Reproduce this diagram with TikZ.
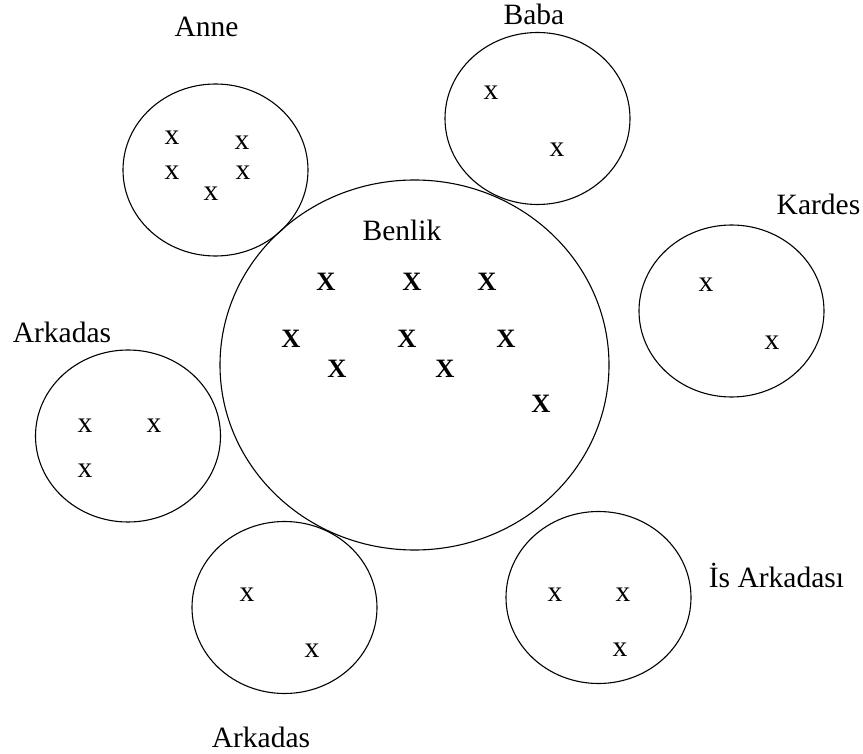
\documentclass[tikz,border=0pt]{standalone}
\usepackage{fontspec}
\setmainfont{Liberation Serif}
\usetikzlibrary{shapes.geometric}
\tikzset{
  others/.style={draw,ellipse,line width=1.1pt,minimum width=185pt,minimum height=172pt,inner sep=0pt},
  self circle/.style={draw,ellipse,line width=1.1pt,minimum width=389pt,minimum height=370pt,inner sep=0pt},
  person/.style={anchor=base,inner sep=0pt,font=\fontsize{29.5}{34}\selectfont},
  trait/.style={inner sep=0pt,font=\fontsize{29.5}{34}\selectfont},
  core trait/.style={inner sep=0pt,font=\fontsize{26.5}{32}\selectfont\bfseries}
}

\begin{document}
\begin{tikzpicture}[x=1pt,y=-1pt]
  \useasboundingbox (0,0) rectangle (863,754);

  % circles
  \node[self circle] (benlik) at (414.5,365) {};
  \node[others] (anne) at (215.5,170) {};
  \node[others] (baba) at (537.5,118.5) {};
  \node[others] (kardes) at (731.5,311) {};
  \node[others] (arkadas 1) at (128,436) {};
  \node[others] (arkadas 2) at (284.5,607.5) {};
  \node[others] (is arkadasi) at (598.5,597.5) {};

  % names
  \node[person] (benlik name) at (402,241) {Benlik};
  \node[person] (anne name) at (206.5,37) {Anne};
  \node[person] (baba name) at (534,25) {Baba};
  \node[person] (kardes name) at (818.5,215) {Kardes};
  \node[person] (arkadas 1 name) at (62,343) {Arkadas};
  \node[person] (arkadas 2 name) at (261,747) {Arkadas};
  \node[person] (is arkadasi name) at (776.5,587) {İs Arkadası};

  % self
  \node[core trait] (core 1) at (326,282) {X};
  \node[core trait] (core 2) at (412,282) {X};
  \node[core trait] (core 3) at (487,282) {X};
  \node[core trait] (core 4) at (291,339) {X};
  \node[core trait] (core 5) at (407,339) {X};
  \node[core trait] (core 6) at (506,339) {X};
  \node[core trait] (core 7) at (337,369) {X};
  \node[core trait] (core 8) at (445,369) {X};
  \node[core trait] (core 9) at (541,404) {X};

  % others
  \node[trait] (anne 1) at (172,138) {x};
  \node[trait] (anne 2) at (242,143) {x};
  \node[trait] (anne 3) at (172,173) {x};
  \node[trait] (anne 4) at (243,173) {x};
  \node[trait] (anne 5) at (211,194) {x};
  \node[trait] (baba 1) at (491,93) {x};
  \node[trait] (baba 2) at (557,150) {x};
  \node[trait] (kardes 1) at (706,285) {x};
  \node[trait] (kardes 2) at (772,343) {x};
  \node[trait] (arkadas 1 1) at (85,426) {x};
  \node[trait] (arkadas 1 2) at (154,426) {x};
  \node[trait] (arkadas 1 3) at (85,471) {x};
  \node[trait] (arkadas 2 1) at (247,595) {x};
  \node[trait] (arkadas 2 2) at (312,651) {x};
  \node[trait] (is arkadasi 1) at (555,595) {x};
  \node[trait] (is arkadasi 2) at (623,595) {x};
  \node[trait] (is arkadasi 3) at (620,650) {x};
\end{tikzpicture}
\end{document}
